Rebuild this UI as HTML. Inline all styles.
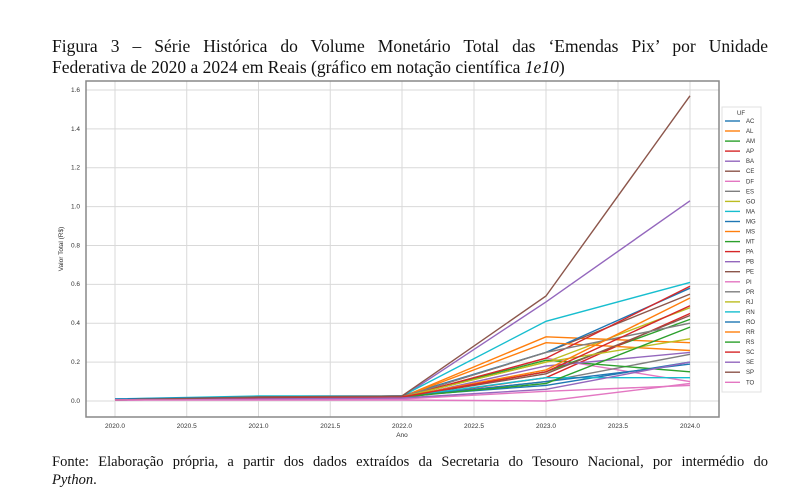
<!DOCTYPE html>
<html><head><meta charset="utf-8"><style>
html,body{margin:0;padding:0;background:#fff;width:800px;height:502px;overflow:hidden}
.t{position:absolute;left:52px;width:716px;font-family:"Liberation Serif",serif;font-size:17.5px;line-height:21px;color:#111;text-align:justify;text-align-last:justify}
.f{position:absolute;left:52px;width:716px;font-family:"Liberation Serif",serif;font-size:14.5px;line-height:18px;color:#111;text-align:justify;text-align-last:justify}
</style></head><body>
<div class="t" style="top:36px">Figura 3 – Série Histórica do Volume Monetário Total das ‘Emendas Pix’ por Unidade</div>
<div class="t" style="top:57px;text-align-last:left">Federativa de 2020 a 2024 em Reais (gráfico em notação científica <i>1e10</i>)</div>
<svg width="800" height="502" style="position:absolute;left:0;top:0" font-family="Liberation Sans, sans-serif">
<g stroke="#d9d9d9" stroke-width="1">
<line x1="115" y1="81" x2="115" y2="417"/><line x1="186.75" y1="81" x2="186.75" y2="417"/><line x1="258.5" y1="81" x2="258.5" y2="417"/><line x1="330.25" y1="81" x2="330.25" y2="417"/><line x1="402" y1="81" x2="402" y2="417"/><line x1="474" y1="81" x2="474" y2="417"/><line x1="546" y1="81" x2="546" y2="417"/><line x1="618" y1="81" x2="618" y2="417"/><line x1="690" y1="81" x2="690" y2="417"/>
<line x1="86" y1="401" x2="719" y2="401"/><line x1="86" y1="362.1" x2="719" y2="362.1"/><line x1="86" y1="323.2" x2="719" y2="323.2"/><line x1="86" y1="284.4" x2="719" y2="284.4"/><line x1="86" y1="245.5" x2="719" y2="245.5"/><line x1="86" y1="206.6" x2="719" y2="206.6"/><line x1="86" y1="167.7" x2="719" y2="167.7"/><line x1="86" y1="128.9" x2="719" y2="128.9"/><line x1="86" y1="90" x2="719" y2="90"/>
</g>
<rect x="86" y="81" width="633" height="336" fill="none" stroke="#888" stroke-width="1.5"/>
<g font-size="6.5" fill="#333" text-anchor="end">
<text x="80" y="403">0.0</text><text x="80" y="364">0.2</text><text x="80" y="325">0.4</text><text x="80" y="286">0.6</text><text x="80" y="247.5">0.8</text><text x="80" y="208.5">1.0</text><text x="80" y="169.5">1.2</text><text x="80" y="131">1.4</text><text x="80" y="92">1.6</text>
</g>
<g font-size="6.5" fill="#333" text-anchor="middle">
<text x="115" y="428">2020.0</text><text x="186.75" y="428">2020.5</text><text x="258.5" y="428">2021.0</text><text x="330.25" y="428">2021.5</text><text x="402" y="428">2022.0</text><text x="474" y="428">2022.5</text><text x="546" y="428">2023.0</text><text x="618" y="428">2023.5</text><text x="690" y="428">2024.0</text>
<text x="402" y="437">Ano</text>
<text transform="translate(63,249) rotate(-90)">Valor Total (R$)</text>
</g>
<g fill="none" stroke-width="1.4">
<polyline stroke="#1f77b4" points="115,400 258.5,397 402,396 546,385.4 690,362.1"/>
<polyline stroke="#ff7f0e" points="115,400 258.5,398 402,397 546,336.8 690,342.7"/>
<polyline stroke="#2ca02c" points="115,400 258.5,398 402,397 546,371.8 690,319.4"/>
<polyline stroke="#d62728" points="115,400 258.5,399 402,398 546,377.7 690,313.5"/>
<polyline stroke="#9467bd" points="115,400 258.5,398 402,397 546,301.9 690,200.8"/>
<polyline stroke="#8c564b" points="115,400 258.5,398 402,397 546,352.4 690,294.1"/>
<polyline stroke="#e377c2" points="115,400 258.5,399 402,398 546,358.2 690,381.6"/>
<polyline stroke="#7f7f7f" points="115,400 258.5,398 402,397 546,381.6 690,354.3"/>
<polyline stroke="#bcbd22" points="115,400 258.5,398 402,397 546,362.1 690,307.7"/>
<polyline stroke="#17becf" points="115,399 258.5,396 402,396 546,321.3 690,282.4"/>
<polyline stroke="#1f77b4" points="115,399 258.5,397 402,396 546,352.4 690,288.2"/>
<polyline stroke="#ff7f0e" points="115,400 258.5,398 402,397 546,342.7 690,350.5"/>
<polyline stroke="#2ca02c" points="115,400 258.5,398 402,397 546,360.2 690,371.8"/>
<polyline stroke="#d62728" points="115,400 258.5,398 402,397 546,358.2 690,286.3"/>
<polyline stroke="#9467bd" points="115,400 258.5,399 402,398 546,366 690,352.4"/>
<polyline stroke="#8c564b" points="115,400 258.5,398 402,397 546,373.8 690,315.5"/>
<polyline stroke="#e377c2" points="115,400 258.5,399 402,399 546,391.3 690,385.4"/>
<polyline stroke="#7f7f7f" points="115,400 258.5,398 402,397 546,352.4 690,323.2"/>
<polyline stroke="#bcbd22" points="115,400 258.5,398 402,397 546,362.1 690,338.8"/>
<polyline stroke="#17becf" points="115,400 258.5,398 402,397 546,377.7 690,377.7"/>
<polyline stroke="#1f77b4" points="115,400 258.5,398 402,397 546,381.6 690,364.1"/>
<polyline stroke="#ff7f0e" points="115,400 258.5,398 402,397 546,369.9 690,298"/>
<polyline stroke="#2ca02c" points="115,400 258.5,398 402,397 546,383.5 690,327.1"/>
<polyline stroke="#d62728" points="115,400 258.5,398 402,397 546,371.8 690,305.7"/>
<polyline stroke="#9467bd" points="115,400 258.5,399 402,398 546,389.3 690,362.1"/>
<polyline stroke="#8c564b" points="115,400 258.5,397 402,396 546,296 690,95.8"/>
<polyline stroke="#e377c2" points="115,400 258.5,400 402,400 546,401 690,383.5"/>
</g>
<rect x="722" y="107" width="39" height="285" fill="#fff" stroke="#e0e0e0" stroke-width="1"/>
<g font-size="6" fill="#333">
<text x="737" y="115">UF</text>
<g stroke-width="1.4">
<line x1="725" y1="121" x2="740" y2="121" stroke="#1f77b4"/><text x="746" y="123">AC</text>
<line x1="725" y1="131" x2="740" y2="131" stroke="#ff7f0e"/><text x="746" y="133">AL</text>
<line x1="725" y1="141.1" x2="740" y2="141.1" stroke="#2ca02c"/><text x="746" y="143.1">AM</text>
<line x1="725" y1="151.1" x2="740" y2="151.1" stroke="#d62728"/><text x="746" y="153.1">AP</text>
<line x1="725" y1="161.2" x2="740" y2="161.2" stroke="#9467bd"/><text x="746" y="163.2">BA</text>
<line x1="725" y1="171.2" x2="740" y2="171.2" stroke="#8c564b"/><text x="746" y="173.2">CE</text>
<line x1="725" y1="181.3" x2="740" y2="181.3" stroke="#e377c2"/><text x="746" y="183.3">DF</text>
<line x1="725" y1="191.3" x2="740" y2="191.3" stroke="#7f7f7f"/><text x="746" y="193.3">ES</text>
<line x1="725" y1="201.4" x2="740" y2="201.4" stroke="#bcbd22"/><text x="746" y="203.4">GO</text>
<line x1="725" y1="211.4" x2="740" y2="211.4" stroke="#17becf"/><text x="746" y="213.4">MA</text>
<line x1="725" y1="221.5" x2="740" y2="221.5" stroke="#1f77b4"/><text x="746" y="223.5">MG</text>
<line x1="725" y1="231.5" x2="740" y2="231.5" stroke="#ff7f0e"/><text x="746" y="233.5">MS</text>
<line x1="725" y1="241.6" x2="740" y2="241.6" stroke="#2ca02c"/><text x="746" y="243.6">MT</text>
<line x1="725" y1="251.6" x2="740" y2="251.6" stroke="#d62728"/><text x="746" y="253.6">PA</text>
<line x1="725" y1="261.7" x2="740" y2="261.7" stroke="#9467bd"/><text x="746" y="263.7">PB</text>
<line x1="725" y1="271.7" x2="740" y2="271.7" stroke="#8c564b"/><text x="746" y="273.7">PE</text>
<line x1="725" y1="281.8" x2="740" y2="281.8" stroke="#e377c2"/><text x="746" y="283.8">PI</text>
<line x1="725" y1="291.8" x2="740" y2="291.8" stroke="#7f7f7f"/><text x="746" y="293.8">PR</text>
<line x1="725" y1="301.9" x2="740" y2="301.9" stroke="#bcbd22"/><text x="746" y="303.9">RJ</text>
<line x1="725" y1="311.9" x2="740" y2="311.9" stroke="#17becf"/><text x="746" y="313.9">RN</text>
<line x1="725" y1="322" x2="740" y2="322" stroke="#1f77b4"/><text x="746" y="324">RO</text>
<line x1="725" y1="332" x2="740" y2="332" stroke="#ff7f0e"/><text x="746" y="334">RR</text>
<line x1="725" y1="342.1" x2="740" y2="342.1" stroke="#2ca02c"/><text x="746" y="344.1">RS</text>
<line x1="725" y1="352.1" x2="740" y2="352.1" stroke="#d62728"/><text x="746" y="354.1">SC</text>
<line x1="725" y1="362.2" x2="740" y2="362.2" stroke="#9467bd"/><text x="746" y="364.2">SE</text>
<line x1="725" y1="372.2" x2="740" y2="372.2" stroke="#8c564b"/><text x="746" y="374.2">SP</text>
<line x1="725" y1="382.3" x2="740" y2="382.3" stroke="#e377c2"/><text x="746" y="384.3">TO</text>
</g></g>
</svg>
<div class="f" style="top:453px">Fonte: Elaboração própria, a partir dos dados extraídos da Secretaria do Tesouro Nacional, por intermédio do</div>
<div class="f" style="top:471px;text-align-last:left"><i>Python</i>.</div>
</body></html>
